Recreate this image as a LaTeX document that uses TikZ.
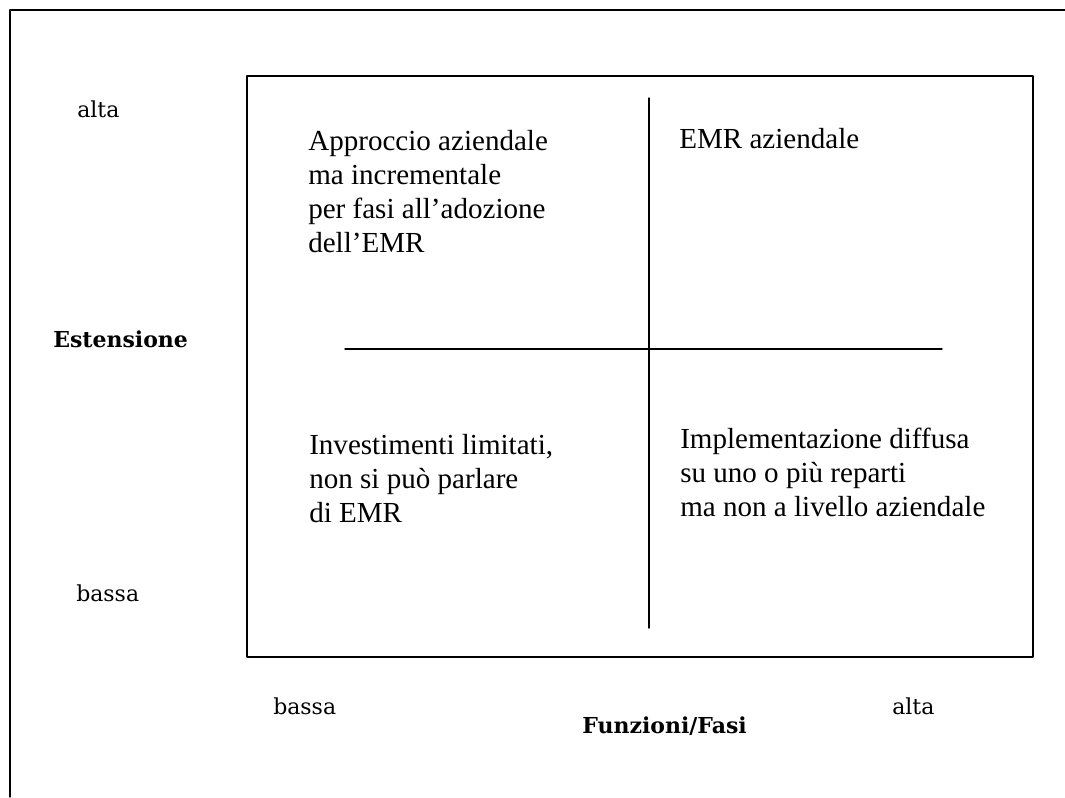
\documentclass[tikz,border=0pt]{standalone}
\usepackage{fontspec}
\setmainfont{Liberation Serif}
\newfontfamily\labelfont{DejaVu Serif}
\usepackage{tkz-euclide}

\begin{document}
\begin{tikzpicture}[x=0.75pt,y=0.75pt,
                    quad/.style={anchor=base west,inner sep=0pt,align=left,
                      font=\fontsize{21.8}{25.5}\selectfont},
                    axis/.style={anchor=base west,inner sep=0pt,
                      font=\labelfont\fontsize{16.5}{18}\selectfont},
                    axistitle/.style={axis,
                      font=\labelfont\bfseries\fontsize{16.5}{18}\selectfont}]
                    \useasboundingbox (0,0) rectangle (1065,797);
                    \tkzDefPoints{10/0/F,10/787/G,1065/787/H,247/721/A,1033/721/B,1033/140/C,247/140/D}
                    \tkzDefPoints{649/699/P,649/169/Q,345/448/M,942/448/N}
                    \tkzDrawPolygon[line width=1.1pt](A,B,C,D)
                    \tkzDrawSegments[line width=1.1pt](F,G G,H P,Q M,N)
                    \node[quad] (tl) at (308,544) {Approccio aziendale\\ma incrementale\\per fasi all'adozione\\dell'EMR};
                    \node[quad] (tr) at (679,648) {EMR aziendale};
                    \node[quad] (bl) at (309,274) {Investimenti limitati,\\non si può parlare\\di EMR};
                    \node[quad] (br) at (680,280) {Implementazione diffusa\\su uno o più reparti\\ma non a livello aziendale};
                    \node[axis] (yhi) at (77,679) {alta};
                    \node[axistitle] (ylab) at (53,449) {Estensione};
                    \node[axis] (ylo) at (76,195) {bassa};
                    \node[axis] (xlo) at (273,82) {bassa};
                    \node[axis] (xhi) at (892,82) {alta};
                    \node[axistitle] (xlab) at (582,64) {Funzioni/Fasi};
                \end{tikzpicture}
\end{document}
